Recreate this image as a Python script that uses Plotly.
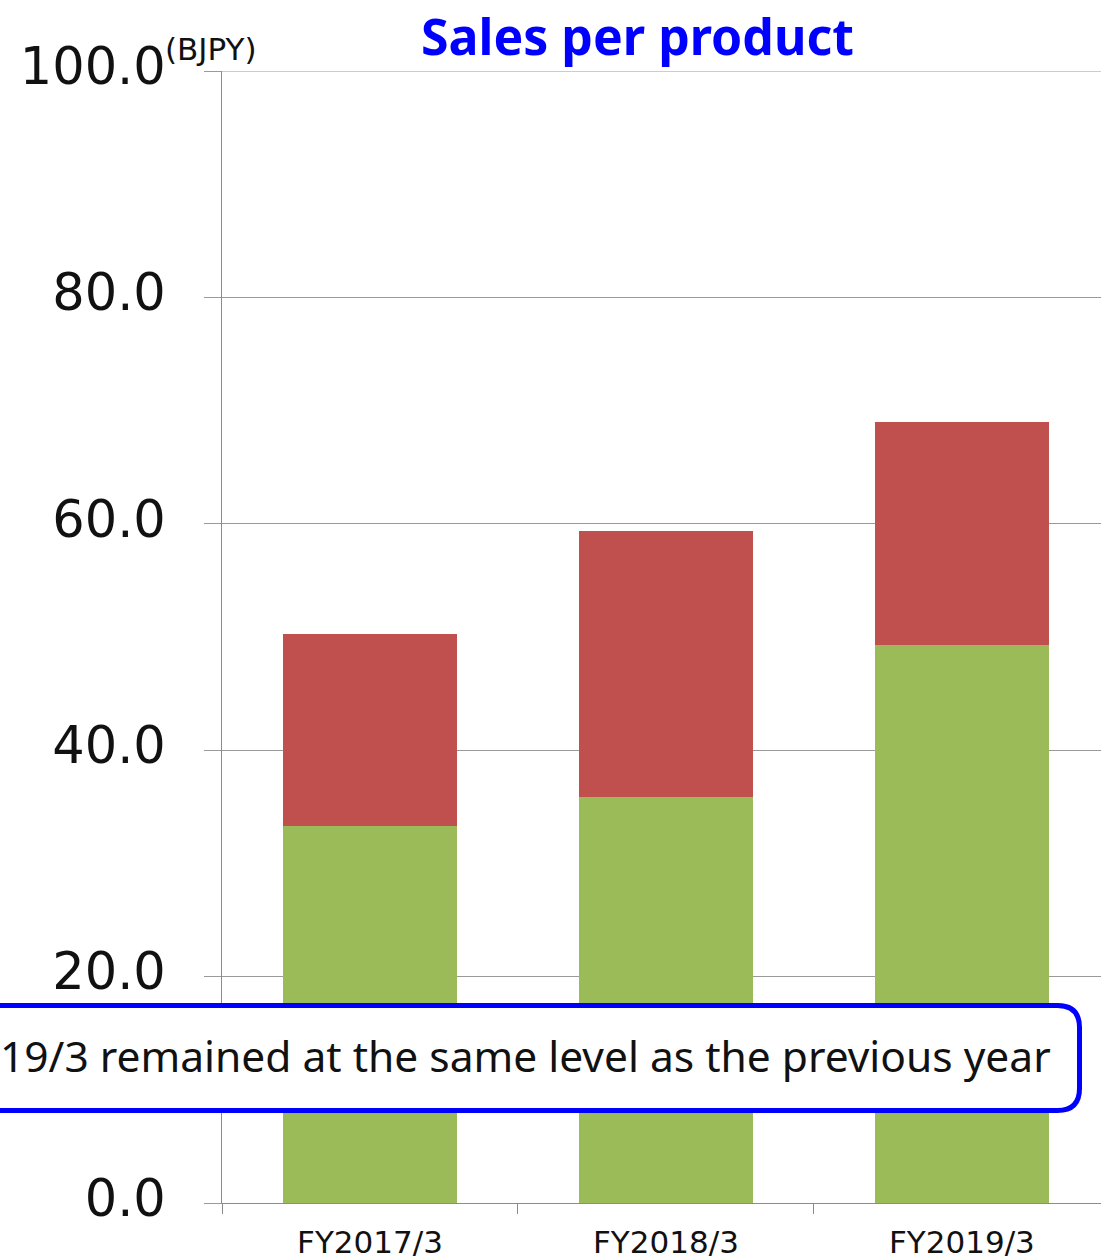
import plotly.graph_objects as go

# Fiscal years and sales per product (BJPY)
categories = ["FY2017/3", "FY2018/3", "FY2019/3"]
product_a = [33.3, 35.9, 49.3]      # lower (green) segment
product_b = [17.0, 23.5, 19.7]      # upper (red) segment
y_ticks = [0, 20, 40, 60, 80, 100]
y_tick_labels = ["0.0", "20.0", "40.0", "60.0", "80.0", "100.0"]

W, H = 1101, 1260
L, R, T, B = 222, 0, 71, 57
PW, PH = W - L - R, H - T - B


def px(x):
    return (x - L) / PW


def py(y):
    return (H - B - y) / PH


fig = go.Figure()
fig.add_trace(go.Bar(x=categories, y=product_a, marker_color="#9BBB59",
                     marker_line_width=0, width=0.59, name="Product A"))
fig.add_trace(go.Bar(x=categories, y=product_b, marker_color="#C0504D",
                     marker_line_width=0, width=0.59, name="Product B"))

# Rounded callout box
x0, x1, y0, y1, r = -30, 1079.5, 1005.5, 1110.5, 22
path = (
    f"M {px(x0)},{py(y0)} L {px(x1 - r)},{py(y0)} "
    f"Q {px(x1)},{py(y0)} {px(x1)},{py(y0 + r)} "
    f"L {px(x1)},{py(y1 - r)} "
    f"Q {px(x1)},{py(y1)} {px(x1 - r)},{py(y1)} "
    f"L {px(x0)},{py(y1)} Z"
)

fig.update_layout(
    width=W, height=H,
    margin=dict(l=L, r=R, t=T, b=B, autoexpand=False),
    paper_bgcolor="white", plot_bgcolor="white",
    barmode="stack", showlegend=False,
    font=dict(family="DejaVu Sans", color="#111111"),
    xaxis=dict(
        range=[-0.5, 2.47], showgrid=False,
        showline=True, linecolor="#8c8c8c", linewidth=1,
        ticks="outside", tickson="boundaries", ticklen=10, tickcolor="#8c8c8c",
        tickfont=dict(size=31, family="DejaVu Sans", color="#111111"),
        ticklabelstandoff=12,
    ),
    yaxis=dict(
        range=[0, 100], tickvals=y_ticks, ticktext=y_tick_labels,
        showgrid=True, gridcolor="#9a9a9a", gridwidth=1,
        showline=True, linecolor="#8c8c8c", linewidth=1,
        ticks="outside", ticklen=17, tickcolor="#9a9a9a",
        tickfont=dict(size=51, family="DejaVu Sans", color="#111111"),
        ticklabelstandoff=28, ticklabelshift=-5, zeroline=False,
    ),
    shapes=[
        # top gridline at 100
        dict(type="line", xref="paper", yref="y", x0=0, x1=1, y0=100, y1=100,
             line=dict(color="#9a9a9a", width=1), layer="below"),
        dict(type="path", path=path, xref="paper", yref="paper",
             line=dict(color="#0000FF", width=5), fillcolor="white",
             layer="above"),
    ],
    annotations=[
        dict(text="<b>Sales per product</b>", x=px(637), y=py(36),
             xref="paper", yref="paper", showarrow=False,
             xanchor="center", yanchor="middle",
             font=dict(size=50, family="Noto Sans", color="#0000FF")),
        dict(text="(BJPY)", x=px(163), y=py(49), xref="paper", yref="paper",
             showarrow=False, xanchor="left", yanchor="middle",
             font=dict(size=31, family="DejaVu Sans", color="#111111")),
        dict(text="19/3 remained at the same level as the previous year",
             x=px(1053), y=py(1055), xref="paper", yref="paper",
             showarrow=False, xanchor="right", yanchor="middle",
             font=dict(size=42.5, family="Noto Sans", color="#111111")),
    ],
)

fig.write_html("out.html")
